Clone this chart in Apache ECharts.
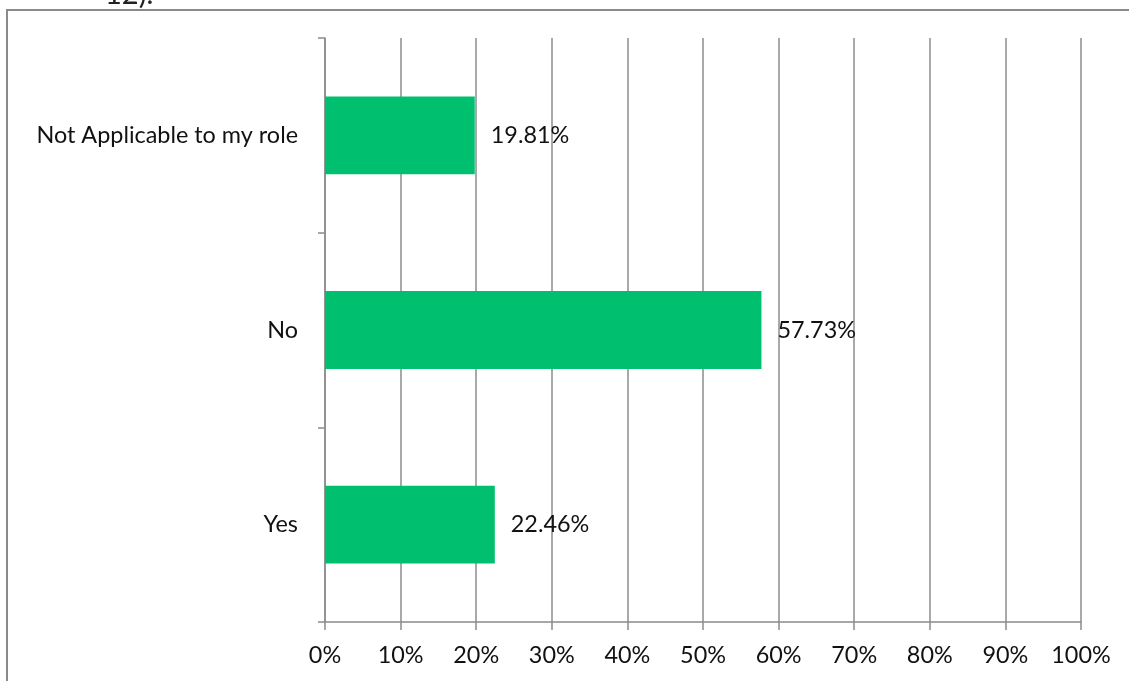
<!DOCTYPE html>
<html>
<head>
<meta charset="utf-8">
<script src="https://cdn.jsdelivr.net/npm/echarts@6/dist/echarts.min.js"></script>
<style>
  html, body { margin: 0; padding: 0; background: #fff; }
  #chart { width: 1129px; height: 681px; }
</style>
</head>
<body>
<div id="chart"></div>
<script>
// Survey answers, listed bottom to top as drawn on the category axis
const categories = ['Yes', 'No', 'Not Applicable to my role'];
const shares = [22.46, 57.73, 19.81];
const tickValues = [0, 10, 20, 30, 40, 50, 60, 70, 80, 90, 100];

const FONT = 'Lato, "Open Sans", sans-serif';
const FONT_SIZE = 23.4;
const GRID_GRAY = '#8c8c8c';

const chart = echarts.init(document.getElementById('chart'), null, { renderer: 'canvas' });

chart.setOption({
  animation: false,
  backgroundColor: '#ffffff',
  graphic: [
    {
      type: 'rect',
      shape: { x: 7, y: 10, width: 1200, height: 800 },
      style: { fill: 'none', stroke: '#8a8a8a', lineWidth: 2 },
      silent: true
    },
    {
      type: 'text',
      left: 105,
      top: -20,
      style: { text: '12).', fontSize: 29, fontFamily: FONT, fill: '#222' },
      silent: true
    }
  ],
  grid: { left: 325, right: 48, top: 38, bottom: 59, containLabel: false },
  xAxis: {
    type: 'value',
    min: tickValues[0],
    max: tickValues[tickValues.length - 1],
    interval: 10,
    axisLine: { show: true, lineStyle: { color: GRID_GRAY, width: 1.5 } },
    axisTick: { show: true, length: 8, lineStyle: { color: GRID_GRAY, width: 1.5 } },
    splitLine: { show: true, lineStyle: { color: GRID_GRAY, width: 1.5 } },
    axisLabel: {
      margin: 22,
      fontSize: FONT_SIZE,
      fontFamily: FONT,
      color: '#111',
      formatter: v => v + '%'
    }
  },
  yAxis: {
    type: 'category',
    data: categories,
    axisLine: { show: true, lineStyle: { color: GRID_GRAY, width: 1.5 } },
    axisTick: { show: true, length: 7, lineStyle: { color: GRID_GRAY, width: 1.5 } },
    splitLine: { show: false },
    axisLabel: {
      margin: 27,
      fontSize: FONT_SIZE,
      fontFamily: FONT,
      color: '#111'
    }
  },
  series: [
    {
      type: 'bar',
      data: shares,
      barWidth: '40%',
      itemStyle: { color: '#00bf6f' },
      label: {
        show: true,
        position: 'right',
        distance: 16,
        fontSize: FONT_SIZE,
        fontFamily: FONT,
        color: '#111',
        formatter: p => p.value.toFixed(2) + '%'
      }
    }
  ]
});
</script>
</body>
</html>
